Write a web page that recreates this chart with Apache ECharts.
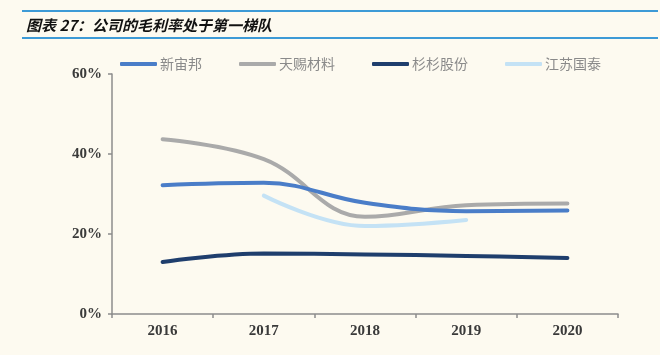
<!DOCTYPE html>
<html>
<head>
<meta charset="utf-8">
<script src="https://cdn.jsdelivr.net/npm/echarts@6/dist/echarts.min.js"></script>
<style>
html,body{margin:0;padding:0;background:#ffffff;}
#chart{width:667px;height:355px;}
</style>
</head>
<body>
<div id="chart"></div>
<script>
const categories = ['2016', '2017', '2018', '2019', '2020'];
const xinzhoubang = [32.2, 32.8, 27.8, 25.7, 25.9];
const tianci = [43.7, 38.7, 24.3, 27.2, 27.6];
const shanshan = [13.0, 15.1, 14.9, 14.5, 14.0];
const jiangsuguotai = [null, 29.6, 22.0, 23.5, null];
const seriesNames = ['新宙邦', '天赐材料', '杉杉股份', '江苏国泰'];
const yTicks = [0, 20, 40, 60];

const colors = ['#4a7dc8', '#aaaaaa', '#1f3e6d', '#c4e2f5'];
const chart = echarts.init(document.getElementById('chart'));
const dataArr = [xinzhoubang, tianci, shanshan, jiangsuguotai];

chart.setOption({
  backgroundColor: '#fdfaf0',
  animation: false,
  title: {
    text: '图表 27：公司的毛利率处于第一梯队',
    left: 21, top: 13,
    textStyle: {fontFamily: 'Noto Sans CJK SC', fontSize: 15, fontWeight: 'bold', fontStyle: 'italic', color: '#111'}
  },
  graphic: [
    {type: 'line', shape: {x1: 22, y1: 11, x2: 658, y2: 11}, style: {stroke: '#3d9ad6', lineWidth: 2}},
    {type: 'line', shape: {x1: 22, y1: 38, x2: 658, y2: 38}, style: {stroke: '#3d9ad6', lineWidth: 2}},
    {type: 'rect', shape: {x: 660, y: 0, width: 7, height: 355}, style: {fill: '#ffffff'}}
  ],
  legend: {
    left: 115, top: 52,
    itemWidth: 37, itemHeight: 4, itemGap: 37,
    icon: 'roundRect',
    data: seriesNames,
    textStyle: {fontFamily: 'Noto Sans CJK SC', fontSize: 14, color: '#8a8a8a', padding: [0, 0, 0, -2]}
  },
  grid: {left: 112, right: 49, top: 74, bottom: 41, containLabel: false},
  xAxis: {
    type: 'category',
    data: categories,
    boundaryGap: true,
    axisLine: {lineStyle: {color: '#8c8c8c', width: 1.5}},
    axisTick: {show: true, length: 4, alignWithLabel: false, lineStyle: {color: '#8c8c8c', width: 1.5}},
    axisLabel: {fontFamily: 'Liberation Serif', fontSize: 15, fontWeight: 'bold', color: '#3a3a3a', margin: 10}
  },
  yAxis: {
    type: 'value',
    min: 0, max: 60, interval: 20,
    axisLine: {show: true, lineStyle: {color: '#8c8c8c', width: 1.5}},
    axisTick: {show: true, length: 4, lineStyle: {color: '#8c8c8c', width: 1.5}},
    splitLine: {show: false},
    axisLabel: {formatter: v => yTicks.includes(v) ? v + '%' : '', fontFamily: 'Liberation Serif', fontSize: 15, fontWeight: 'bold', color: '#3a3a3a', margin: 10}
  },
  series: seriesNames.map((n, i) => ({
    name: n,
    type: 'line',
    data: dataArr[i],
    smooth: 0.4,
    showSymbol: false,
    symbol: 'none',
    connectNulls: false,
    lineStyle: {color: colors[i], width: 4, cap: 'round'},
    itemStyle: {color: colors[i]},
    z: i === 1 ? 2 : 3
  }))
});
</script>
</body>
</html>
